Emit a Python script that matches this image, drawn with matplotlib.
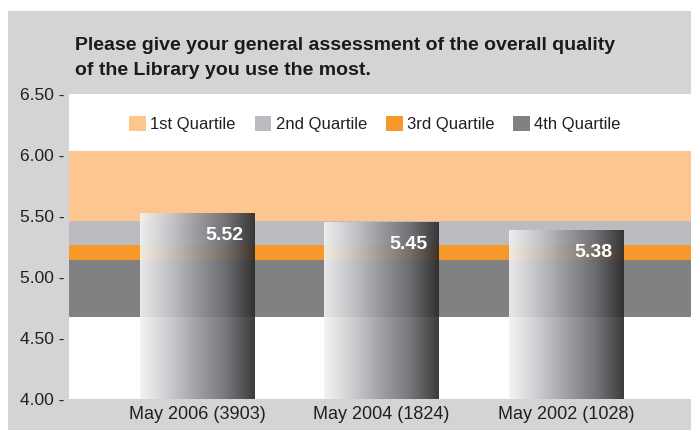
import numpy as np
import matplotlib
matplotlib.use("Agg")
import matplotlib.pyplot as plt
from matplotlib.patches import Rectangle, Patch
from matplotlib.colors import LinearSegmentedColormap

plt.rcParams['font.family'] = ['Liberation Sans', 'DejaVu Sans']

# data
categories = ["May 2006 (3903)", "May 2004 (1824)", "May 2002 (1028)"]
scores = [5.52, 5.45, 5.38]
band_names = ["1st Quartile", "2nd Quartile", "3rd Quartile", "4th Quartile"]
band_edges = [6.03, 5.46, 5.26, 5.14, 4.67]   # top of 1st ... bottom of 4th
band_colors = ["#fcc68e", "#bbbcc0", "#f7982a", "#808183"]
yticks = [4.00, 4.50, 5.00, 5.50, 6.00, 6.50]

W, H = 691, 430
fig = plt.figure(figsize=(W / 100, H / 100), dpi=100, facecolor="white")

# grey panel behind everything
fig.patches.append(Rectangle((8 / W, 0), 1 - 8 / W, 1 - 11 / H, transform=fig.transFigure,
                             facecolor="#d3d4d6", edgecolor="none", zorder=-10))

ax = fig.add_axes([69 / W, 1 - 399 / H, 1 - 69 / W, (399 - 94) / H])
ax.set_zorder(1)
ax.set_facecolor("white")
for s in ax.spines.values():
    s.set_visible(False)

# quartile bands
for i in range(4):
    ax.axhspan(band_edges[i + 1], band_edges[i], color=band_colors[i], zorder=1, lw=0)

# gradient bars
cmap = LinearSegmentedColormap.from_list("bar", [
    (0.0, "#f3f3f3"), (0.25, "#c8c9cc"), (0.5, "#96989b"),
    (0.75, "#6a6b6e"), (1.0, "#2b2a2b")])
grad = np.linspace(0, 1, 256).reshape(1, -1)
x = np.arange(len(categories))
bw = 0.62
for xi, v in zip(x, scores):
    ax.imshow(grad, cmap=cmap, aspect="auto", extent=[xi - bw / 2, xi + bw / 2, 4.0, v],
              alpha=0.92, zorder=2, interpolation="bilinear")
    ax.text(xi + bw / 2 - 0.06, v - 0.11, f"{v:.2f}", ha="right", va="top",
            color="white", fontsize=14, fontweight="bold", zorder=3)

ax.set_xlim(-0.694, 2.678)
ax.set_ylim(4.0, 6.5)
ax.set_yticks(yticks)
ax.set_yticklabels([f"{t:.2f} -" for t in yticks], fontsize=12.5, color="#231f20")
ax.set_xticks(x)
ax.set_xticklabels(categories, fontsize=13, color="#231f20")
ax.tick_params(length=0, pad=3)
ax.tick_params(axis="x", pad=5)

# legend
handles = [Patch(facecolor=c, edgecolor="none") for c in band_colors]
leg = fig.legend(handles, band_names, loc="center left", bbox_to_anchor=(121 / W, 1 - 124 / H),
                 ncol=4, frameon=False, fontsize=12, borderpad=0, handlelength=1.0,
                 handleheight=1.0, handletextpad=0.25, columnspacing=1.15, labelcolor="#231f20")
leg.set_zorder(5)

# title
fig.text(75 / W, 1 - 45 / H, "Please give your general assessment of the overall quality",
         fontsize=14, fontweight="bold", color="#1a1a1a", va="center", ha="left")
fig.text(75 / W, 1 - 70 / H, "of the Library you use the most.",
         fontsize=14, fontweight="bold", color="#1a1a1a", va="center", ha="left")

fig.savefig("out.png", dpi=100, facecolor="white")
